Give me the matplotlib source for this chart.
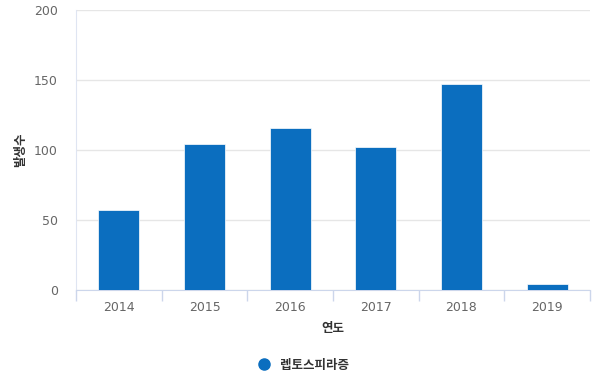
import matplotlib
matplotlib.use("Agg")
import matplotlib.pyplot as plt
from matplotlib.lines import Line2D

plt.rcParams['font.family'] = ['DejaVu Sans', 'Noto Sans CJK KR']

years = ["2014", "2015", "2016", "2017", "2018", "2019"]
counts = [57, 104, 116, 102, 147, 4]
series_name = "렙토스피라증"
color = "#0b6ebf"
kr = ['Noto Sans CJK KR', 'DejaVu Sans']

fig = plt.figure(figsize=(6.0, 3.78), dpi=100)
ax = fig.add_axes([76/600, 1 - 290/378, (590-76)/600, (290-10)/378])

x = list(range(len(years)))
ax.bar(x, counts, width=0.48, color=color, edgecolor="white", linewidth=0.5, zorder=3)

ax.set_xlim(-0.5, len(years) - 0.5)
ax.set_ylim(0, 200)
ax.set_yticks([0, 50, 100, 150, 200])
ax.set_xticks(x)
ax.set_xticklabels(years)
ax.set_xticks([i - 0.5 for i in range(len(years) + 1)], minor=True)

ax.grid(axis='y', color='#e6e6e6', linewidth=1, zorder=0)
for s in ['top', 'right']:
    ax.spines[s].set_visible(False)
ax.spines['left'].set_color('#dfe5f2')
ax.spines['bottom'].set_color('#ccd6eb')
ax.tick_params(axis='y', length=0, labelsize=9, labelcolor='#666666', pad=13)
ax.tick_params(axis='x', which='major', length=0, labelsize=9, labelcolor='#666666', pad=8)
ax.tick_params(axis='x', which='minor', length=8, color='#ccd6eb', width=1)

ax.set_ylabel("발생수", fontsize=9, color='#333333', labelpad=5, family=kr, fontweight='bold')
ax.set_xlabel("연도", fontsize=9, color='#333333', labelpad=6, family=kr, fontweight='bold')

handle = Line2D([], [], marker='o', linestyle='None', color=color, markersize=8)
fig.legend([handle], [series_name], loc='center', bbox_to_anchor=(0.5, 1 - 365/378),
           frameon=False, handletextpad=0.3, labelcolor='#333333',
           prop={'family': kr, 'weight': 'bold', 'size': 9})

fig.savefig("out.png", dpi=100)
